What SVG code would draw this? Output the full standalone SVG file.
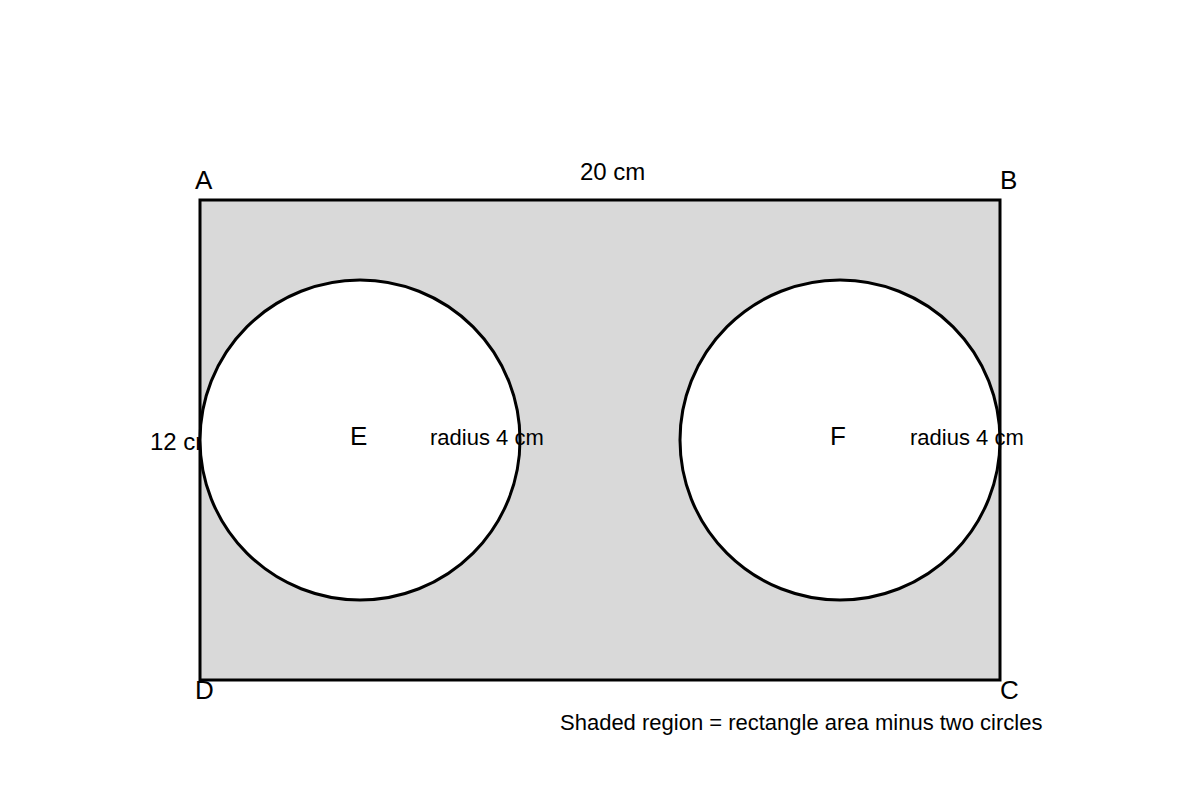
<svg xmlns="http://www.w3.org/2000/svg" width="1200" height="800" viewBox="0 0 1200 800">
<style>
text{font-family:"Liberation Sans",Arial,sans-serif;fill:#000}
.pt{font-size:26px}
.lb{font-size:22px}
.dm{font-size:24px}
.sh{stroke:#000;stroke-width:3}
</style>
<rect width="1200" height="800" fill="#fff"/>
<g id="rectangle">
<rect class="sh" x="200" y="200" width="800" height="480" fill="#d9d9d9"/>
</g>
<g id="side-label">
<text class="dm" x="150" y="450">12 cm</text>
</g>
<g id="circle-E">
<circle class="sh" cx="360" cy="440" r="160" fill="#fff"/>
<text class="pt" x="350" y="445">E</text>
<text class="lb" x="430" y="445">radius 4 cm</text>
</g>
<g id="circle-F">
<circle class="sh" cx="840" cy="440" r="160" fill="#fff"/>
<text class="pt" x="830" y="445">F</text>
<text class="lb" x="910" y="445">radius 4 cm</text>
</g>
<g id="vertices">
<text class="pt" x="195" y="189">A</text>
<text class="pt" x="1000" y="189">B</text>
<text class="pt" x="1000" y="699">C</text>
<text class="pt" x="195" y="699">D</text>
</g>
<g id="labels">
<text class="dm" x="580" y="180">20 cm</text>
<text class="lb" x="560" y="730">Shaded region = rectangle area minus two circles</text>
</g>
</svg>
